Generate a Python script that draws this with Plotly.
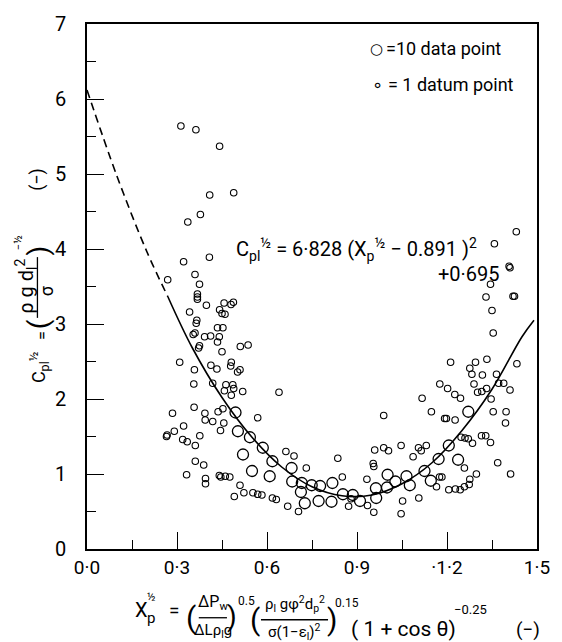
import plotly.graph_objects as go

# small circles (= 1 datum point)
small_x = [0.313, 0.363, 0.442, 0.409, 0.489, 0.336, 0.378, 0.322, 0.408, 0.269, 0.360, 0.375,
           0.368, 0.368, 0.368, 0.398, 0.457, 0.488, 0.480, 0.442, 0.450, 0.460, 0.342, 0.366,
           0.364, 0.435, 0.453, 0.354, 0.360, 0.392, 0.412, 0.441, 0.435, 0.375, 0.372, 0.450,
           0.511, 0.537, 0.309, 0.413, 0.433, 0.481, 0.479, 0.502, 0.510, 0.358, 0.356, 0.419,
           0.463, 0.486, 0.489, 0.458, 0.481, 0.519, 0.285, 0.357, 0.393, 0.394, 0.437, 0.453,
           0.419, 0.456, 0.569, 0.322, 0.291, 0.267, 0.265, 0.376, 0.445, 0.319, 0.334, 0.361,
           0.361, 0.389, 0.332, 0.441, 0.446, 0.461, 0.476, 0.395, 0.395, 0.510, 0.523, 0.553,
           0.569, 0.583, 0.491, 0.618,
           1.354, 1.212, 1.295, 1.333, 1.433, 1.276, 1.283, 1.318, 1.365, 1.176, 1.202, 1.226,
           1.245, 1.290, 1.302, 1.316, 1.332, 1.372, 1.389, 1.410, 1.347, 1.117, 1.148, 1.192,
           1.198, 1.227, 1.354, 1.397, 1.395, 0.989, 1.247, 1.260, 1.271, 1.285, 1.315, 1.329,
           1.345, 1.369, 1.412, 1.298, 1.276, 1.274, 1.258, 1.244, 1.228, 1.206, 1.258, 1.175,
           1.183, 1.165, 0.959, 0.989, 1.005, 1.047, 1.105, 1.131, 1.114, 1.087, 0.954, 0.956,
           0.836, 0.851, 0.933, 0.731, 0.663, 0.690, 0.640, 1.106, 1.052, 1.047, 0.956, 0.935,
           0.872, 0.705, 0.669, 0.631, 0.880,
           1.431, 1.358, 1.407, 1.410, 1.345, 1.330, 1.420, 1.425, 1.350]
small_y = [5.64, 5.59, 5.37, 4.72, 4.75, 4.36, 4.46, 3.83, 3.89, 3.59, 3.66, 3.53,
           3.40, 3.36, 3.33, 3.25, 3.28, 3.29, 3.26, 3.19, 3.14, 3.13, 3.16, 3.05,
           3.01, 2.95, 2.95, 2.86, 2.88, 2.83, 2.84, 2.83, 2.76, 2.71, 2.68, 2.63,
           2.70, 2.72, 2.49, 2.45, 2.40, 2.49, 2.44, 2.36, 2.39, 2.39, 2.20, 2.21,
           2.19, 2.19, 2.14, 2.11, 2.05, 2.10, 1.81, 1.89, 1.81, 1.72, 1.83, 1.87,
           1.70, 1.68, 1.75, 1.64, 1.57, 1.52, 1.50, 1.51, 1.58, 1.46, 1.43, 1.38,
           1.17, 1.12, 0.99, 0.98, 0.96, 0.97, 0.96, 0.94, 0.87, 0.85, 0.75, 0.75,
           0.73, 0.72, 0.70, 0.68,
           2.88, 2.49, 2.49, 2.53, 2.47, 2.41, 2.33, 2.32, 2.33, 2.20, 2.14, 2.06,
           2.01, 2.20, 2.09, 2.10, 2.14, 2.21, 2.21, 2.12, 2.00, 2.01, 1.83, 1.74,
           1.74, 1.72, 1.83, 1.83, 1.68, 1.78, 1.49, 1.48, 1.47, 1.41, 1.51, 1.51,
           1.42, 1.15, 1.00, 1.00, 0.93, 0.86, 0.83, 0.79, 0.80, 0.79, 1.08, 0.96,
           0.96, 0.83, 1.32, 1.35, 1.31, 1.38, 1.35, 1.38, 1.31, 1.23, 1.14, 1.10,
           1.21, 0.96, 0.93, 1.08, 1.30, 1.24, 2.09, 0.68, 0.64, 0.47, 0.49, 0.58,
           0.57, 0.50, 0.57, 0.66, 0.67,
           4.23, 4.07, 3.77, 3.75, 3.53, 3.36, 3.37, 3.37, 3.18]

# large circles (= 10 data points)
big_x = [0.495, 0.503, 0.543, 0.586, 0.618, 0.520, 0.550, 0.609, 0.682, 0.684, 0.716, 0.749,
         0.777, 0.818, 0.713, 0.726, 0.772, 0.815, 0.853, 0.886, 0.910, 0.963, 0.964, 1.002,
         1.000, 1.028, 1.065, 1.076, 1.125, 1.146, 1.172, 1.206, 1.237, 1.271]
big_y = [1.82, 1.57, 1.49, 1.35, 1.17, 1.26, 1.04, 0.97, 1.08, 0.90, 0.88, 0.85,
         0.84, 0.88, 0.76, 0.61, 0.64, 0.63, 0.73, 0.72, 0.64, 0.81, 0.68, 0.99,
         0.82, 0.90, 0.97, 0.85, 1.04, 0.91, 1.20, 1.38, 1.19, 1.83]

# fitted curve
dash_x = [0.0, 0.1, 0.2, 0.27]
dash_y = [6.12, 4.97, 3.96, 3.36]
fit_x = [0.27, 0.35, 0.45, 0.55, 0.65, 0.75, 0.85, 0.95, 1.05, 1.15, 1.25, 1.35, 1.45, 1.49]
fit_y = [3.36, 2.69, 2.02, 1.49, 1.09, 0.83, 0.71, 0.72, 0.87, 1.15, 1.58, 2.13, 2.83, 3.05]

xtick_vals = [0.0, 0.3, 0.6, 0.9, 1.2, 1.5]
xtick_text = ["0·0", "0·3", "0·6", "0·9", "·1·2", "1·5"]

W, H = 562, 642
L, R, T, B = 87, 550, 22, 549   # plot box in pixels
FONT = "Roboto"

fig = go.Figure()
fig.add_trace(go.Scatter(x=dash_x, y=dash_y, mode="lines", line_shape="spline",
                         line=dict(color="black", width=1.6, dash="8px,5px")))
fig.add_trace(go.Scatter(x=fit_x, y=fit_y, mode="lines", line_shape="spline",
                         line=dict(color="black", width=1.6)))
fig.add_trace(go.Scatter(x=small_x, y=small_y, mode="markers",
                         marker=dict(symbol="circle-open", size=6.5, color="black",
                                     line=dict(width=1.1))))
fig.add_trace(go.Scatter(x=big_x, y=big_y, mode="markers",
                         marker=dict(symbol="circle-open", size=11, color="black",
                                     line=dict(width=1.3))))


def px2x(px):
    return (px - L) / (R - L)


def px2y(py):
    return (B - py) / (B - T)


def note(text, px, py, size=17, angle=0, xanchor="center", family=FONT):
    fig.add_annotation(text=text, x=px2x(px), y=px2y(py), xref="paper", yref="paper",
                       showarrow=False, textangle=angle, xanchor=xanchor, yanchor="middle",
                       font=dict(family=family, size=size, color="black"))


def bar(x0, y0, x1, y1):
    fig.add_shape(type="line", xref="paper", yref="paper",
                  x0=px2x(x0), y0=px2y(y0), x1=px2x(x1), y1=px2y(y1),
                  line=dict(color="black", width=1.3))


# legend text
note("○", 385, 47, size=15, family="DejaVu Sans")
note("=10 data point", 393, 47, size=18, xanchor="left")
note("∘", 386, 83, size=18, family="DejaVu Sans")
note("= 1 datum point", 395, 83, size=18, xanchor="left")

# fit equation
note("C<sub>pl</sub><sup>½</sup> = 6·828 (X<sub>p</sub><sup>½</sup> − 0.891 )<sup>2</sup>",
     238, 248, size=20, xanchor="left")
note("+0·695", 514, 273, size=20, xanchor="right")

# x axis title
note("X", 143, 610, size=20)
note("½", 153, 598, size=11)
note("p", 153, 618, size=15)
note("=", 177, 611, size=19)
note("(", 194, 618, size=30)
note("ΔP<sub>w</sub>", 217, 603, size=16)
bar(202, 618, 231, 618)
note("ΔLρ<sub>l</sub>g", 217, 631, size=15)
note(")", 236, 617, size=28)
note("0.5", 251, 601, size=12)
note("(", 260, 620, size=30)
note("ρ<sub>l</sub> gφ<sup>2</sup>d<sub>p</sub><sup>2</sup>", 301, 604, size=15)
bar(266, 620, 335, 620)
note("σ(1−ε<sub>l</sub>)<sup>2</sup>", 300, 632, size=15)
note(")", 339, 620, size=30)
note("0.15", 355, 603, size=12)
note("( 1 + cos θ)", 413, 629, size=21)
note("−0.25", 482, 610, size=13)
note("(−)", 541, 630, size=19)

# y axis title (rotated)
note("C<sub>pl</sub><sup>½</sup>", 37, 366, size=18, angle=-90)
note("=", 42, 335, size=16, angle=-90)
note("(", 37, 323, size=28, angle=-90)
note("ρ g d<sub>l</sub><sup>2</sup>", 24, 285, size=20, angle=-90)
bar(36, 256, 36, 317)
note("σ", 46, 290, size=18, angle=-90)
note(")", 37, 249, size=28, angle=-90)
note("−½", 16, 241, size=11, angle=-90)
note("(−)", 36, 178, size=18, angle=-90)

fig.update_layout(
    width=W, height=H, showlegend=False,
    paper_bgcolor="white", plot_bgcolor="white",
    margin=dict(l=L, r=W - R, t=T, b=H - B),
    font=dict(family=FONT, size=19, color="black"),
)
fig.update_xaxes(range=[0, 1.5], tickvals=xtick_vals, ticktext=xtick_text,
                 ticks="inside", ticklen=17, tickwidth=1.4, tickcolor="black",
                 minor=dict(dtick=0.15, tick0=0, ticks="inside", ticklen=9,
                            tickwidth=1.4, tickcolor="black"),
                 showline=True, linecolor="black", linewidth=1.6, mirror=True,
                 showgrid=False, zeroline=False, tickfont=dict(size=19))
fig.update_yaxes(range=[0, 7], dtick=1, tick0=0,
                 ticks="inside", ticklen=17, tickwidth=1.4, tickcolor="black",
                 minor=dict(dtick=0.5, tick0=0, ticks="inside", ticklen=9,
                            tickwidth=1.4, tickcolor="black"),
                 showline=True, linecolor="black", linewidth=1.6, mirror=True,
                 showgrid=False, zeroline=False, tickfont=dict(size=20),
                 ticklabelstandoff=15)

# drop the default body margin so the figure sits flush in the window
fig.write_html("out.html", config={"displayModeBar": False},
               post_script="document.body.style.margin = '0px';")
